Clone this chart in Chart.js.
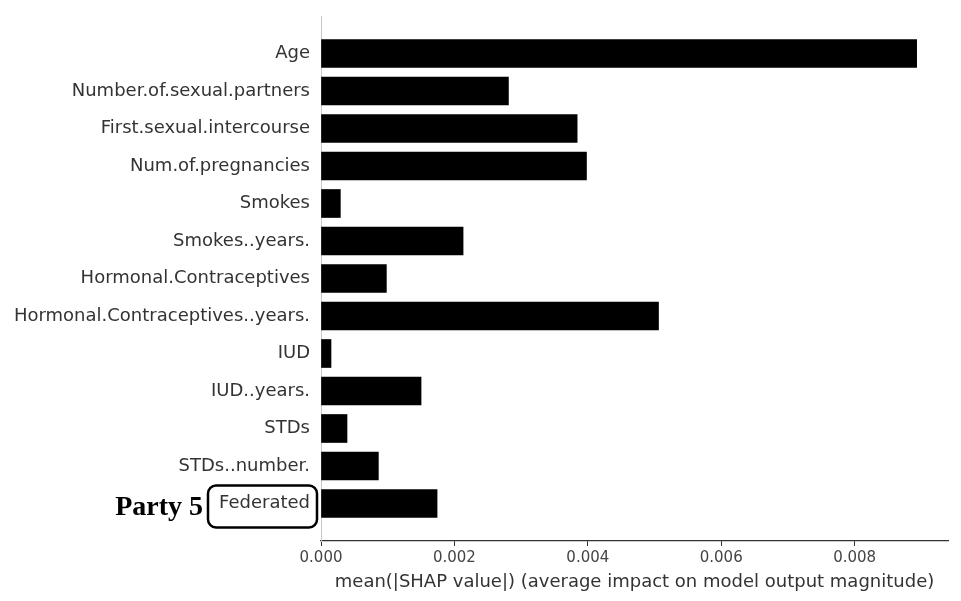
<!DOCTYPE html>
<html>
<head>
<meta charset="utf-8">
<script src="https://cdn.jsdelivr.net/npm/chart.js@4"></script>
<style>
  html, body { margin: 0; padding: 0; background: #fff; }
  #wrap { width: 961px; height: 601px; }
</style>
</head>
<body>
<div id="wrap"><canvas id="shap" width="961" height="601"></canvas></div>
<script>
// feature names, top to bottom
var features = [
  'Age',
  'Number.of.sexual.partners',
  'First.sexual.intercourse',
  'Num.of.pregnancies',
  'Smokes',
  'Smokes..years.',
  'Hormonal.Contraceptives',
  'Hormonal.Contraceptives..years.',
  'IUD',
  'IUD..years.',
  'STDs',
  'STDs..number.',
  'Federated'
];

// mean(|SHAP value|) per feature
var shapValues = [
  0.00893, 0.00281, 0.00384, 0.00398, 0.00029, 0.00213, 0.00098,
  0.00506, 0.00015, 0.00150, 0.00039, 0.00086, 0.00174
];

var xTicks = [0, 0.002, 0.004, 0.006, 0.008];
var xTitle = 'mean(|SHAP value|) (average impact on model output magnitude)';
var partyLabel = 'Party 5';
var boxedFeature = 'Federated';

var font = 'DejaVu Sans';

// rounded box round the "Federated" tick label + "Party 5" text on the left
var partyBox = {
  id: 'partyBox',
  afterDraw: function (chart) {
    var ctx = chart.ctx;
    var yScale = chart.scales.y;
    var idx = features.indexOf(boxedFeature);
    var cy = yScale.getPixelForValue(idx) + 3;
    var right = yScale.right - 4;
    var left = right - 109;
    var top = cy - 21, h = 42, r = 8;
    ctx.save();
    ctx.lineWidth = 2.5;
    ctx.strokeStyle = '#000';
    ctx.beginPath();
    ctx.roundRect(left, top, right - left, h, r);
    ctx.stroke();
    ctx.fillStyle = '#000';
    ctx.font = 'bold 28px "Liberation Serif", "Times New Roman", serif';
    ctx.textAlign = 'right';
    ctx.textBaseline = 'middle';
    ctx.fillText(partyLabel, left - 5, cy + 1);
    ctx.restore();
  }
};

new Chart(document.getElementById('shap'), {
  type: 'bar',
  data: {
    datasets: [{
      data: features.map(function (f, i) { return { x: shapValues[i], y: i }; }),
      backgroundColor: '#000',
      borderWidth: 0,
      barThickness: 28
    }]
  },
  options: {
    indexAxis: 'y',
    responsive: false,
    animation: false,
    devicePixelRatio: 1,
    layout: { padding: { top: 16, right: 13, left: 0, bottom: 0 } },
    plugins: { legend: { display: false }, tooltip: { enabled: false } },
    scales: {
      x: {
        type: 'linear',
        min: 0,
        max: 0.0094,
        afterBuildTicks: function (axis) {
          axis.ticks = xTicks.map(function (v) { return { value: v }; });
        },
        ticks: {
          color: '#444',
          font: { family: font, size: 15 },
          padding: 3,
          maxRotation: 0,
          callback: function (v) { return Number(v).toFixed(3); }
        },
        grid: { drawOnChartArea: false, drawTicks: true, tickLength: 5, color: '#333' },
        border: { display: true, color: '#333', width: 1.2 },
        title: {
          display: true,
          text: xTitle,
          color: '#333',
          font: { family: font, size: 18 },
          padding: { top: 3, bottom: 8 }
        },
        afterFit: function (scale) { scale.height = 60; }
      },
      y: {
        type: 'linear',
        reverse: true,
        offset: false,
        min: -1,
        max: features.length,
        afterBuildTicks: function (axis) {
          axis.ticks = features.map(function (f, i) { return { value: i }; });
        },
        ticks: {
          color: '#333',
          font: { family: font, size: 18 },
          padding: 11,
          autoSkip: false,
          callback: function (v) { return features[v]; }
        },
        grid: { display: false, drawTicks: false, offset: false },
        border: { display: true, color: '#c8c8c8', width: 1 },
        afterFit: function (scale) {
          scale.width = 321;
          scale.paddingTop = 0;
          scale.paddingBottom = 0;
        }
      }
    }
  },
  plugins: [partyBox]
});
</script>
</body>
</html>
